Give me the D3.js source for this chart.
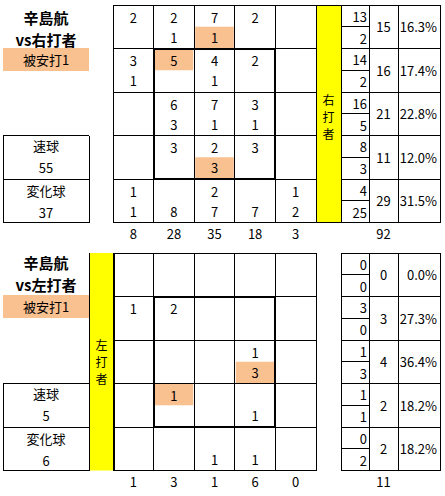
<!DOCTYPE html>
<html>
<head>
<meta charset="utf-8">
<script src="https://cdn.jsdelivr.net/npm/d3@7"></script>
<style>
  body { margin: 0; background: #fff; }
  text { font-family: 'Noto Sans CJK JP', sans-serif; font-size: 13px; fill: #000; }
  .name { font-weight: bold; font-size: 15px; }
  .vert { font-size: 12px; }
</style>
</head>
<body>
<script>
//data: top number = 速球, bottom number = 変化球, null = empty
var pitcher = '辛島航';
var rTop = [
    [2, 2, 7, 2, null],
    [3, 5, 4, 2, null],
    [null, 6, 7, 3, null],
    [null, 3, 2, 3, null],
    [1, null, 2, null, 1]
];
var rBot = [
    [null, 1, 1, null, null],
    [1, null, 1, null, null],
    [null, 3, 1, 1, null],
    [null, null, 3, null, null],
    [1, 8, 7, 7, 2]
];
var rHits = [[0, 2, 'bot'], [1, 1, 'top'], [3, 2, 'bot']];
var rColTotals = [8, 28, 35, 18, 3];
var rRowFast = [13, 14, 16, 8, 4];
var rRowBreak = [2, 2, 5, 3, 25];
var rRowTotals = [15, 16, 21, 11, 29];
var rRowPct = ['16.3%', '17.4%', '22.8%', '12.0%', '31.5%'];
var rTotal = 92;
var rFast = 55, rBreak = 37, rHitCount = 1;

var lTop = [
    [null, null, null, null, null],
    [1, 2, null, null, null],
    [null, null, null, 1, null],
    [null, 1, null, null, null],
    [null, null, null, null, null]
];
var lBot = [
    [null, null, null, null, null],
    [null, null, null, null, null],
    [null, null, null, 3, null],
    [null, null, null, 1, null],
    [null, null, 1, 1, null]
];
var lHits = [[2, 3, 'bot'], [3, 1, 'top']];
var lColTotals = [1, 3, 1, 6, 0];
var lRowFast = [0, 3, 1, 1, 0];
var lRowBreak = [0, 0, 3, 1, 2];
var lRowTotals = [0, 3, 4, 2, 2];
var lRowPct = ['0.0%', '27.3%', '36.4%', '18.2%', '18.2%'];
var lTotal = 11;
var lFast = 5, lBreak = 6, lHitCount = 1;
//end data

var hitColor = '#f9c090';
var svg = d3.select('body').append('svg')
    .attr('width', 445)
    .attr('height', 496);

function line(g, x1, y1, x2, y2, w) {
    g.append('line')
        .attr('x1', x1).attr('y1', y1)
        .attr('x2', x2).attr('y2', y2)
        .attr('stroke', '#000')
        .attr('stroke-width', w || 1)
        .attr('shape-rendering', 'crispEdges');
}

function txt(g, x, y, s, anchor, cls) {
    g.append('text')
        .attr('x', x).attr('y', y)
        .attr('text-anchor', anchor || 'middle')
        .attr('dominant-baseline', 'central')
        .attr('class', cls || null)
        .text(s);
}

function drawPanel(cfg) {
    var g = svg.append('g');
    var idx = d3.range(5);
    var x = d3.scaleBand().domain(idx).range([cfg.gridX0, cfg.gridX1]);
    var y = d3.scaleBand().domain(idx).range([cfg.y0, cfg.y0 + 217.5]);
    var bw = x.bandwidth(), bh = y.bandwidth();
    var yEnd = cfg.y0 + 217.5;

    //highlighted hits (half cell)
    g.selectAll('rect.hit')
        .data(cfg.hits)
        .enter().append('rect')
        .attr('class', 'hit')
        .attr('x', function (d) { return x(d[1]) + 1; })
        .attr('y', function (d) { return y(d[0]) + (d[2] === 'bot' ? bh / 2 : 0); })
        .attr('width', bw - 2)
        .attr('height', bh / 2)
        .attr('fill', hitColor);

    //yellow batter column
    g.append('rect')
        .attr('x', cfg.yellowX).attr('y', cfg.y0)
        .attr('width', 25).attr('height', 217.5)
        .attr('fill', '#ffff00');
    cfg.yellowText.split('').forEach(function (c, i) {
        txt(g, cfg.yellowX + 12.5, cfg.yellowTextY + i * 17, c, 'middle', 'vert');
    });

    //grid lines
    idx.concat([5]).forEach(function (i) {
        var xx = i < 5 ? x(i) : cfg.gridX1;
        line(g, xx, cfg.y0, xx, yEnd);
        var yy = i < 5 ? y(i) : yEnd;
        line(g, cfg.gridX0, yy, cfg.gridX1, yy);
    });
    line(g, cfg.yellowX, cfg.y0, cfg.yellowX, yEnd);
    line(g, cfg.yellowX + 25, cfg.y0, cfg.yellowX + 25, yEnd);
    if (cfg.joinYellow) {
        line(g, cfg.yellowX, cfg.y0, cfg.yellowX + 25, cfg.y0);
        line(g, cfg.yellowX, yEnd, cfg.yellowX + 25, yEnd);
    }

    //strike zone box
    g.append('rect')
        .attr('x', x(1)).attr('y', y(1))
        .attr('width', bw * 3).attr('height', bh * 3)
        .attr('fill', 'none')
        .attr('stroke', '#000')
        .attr('stroke-width', 2)
        .attr('shape-rendering', 'crispEdges');

    //cell numbers
    idx.forEach(function (r) {
        idx.forEach(function (c) {
            if (cfg.top[r][c] !== null) txt(g, x(c) + bw / 2, y(r) + 12, cfg.top[r][c]);
            if (cfg.bot[r][c] !== null) txt(g, x(c) + bw / 2, y(r) + 32, cfg.bot[r][c]);
        });
    });
    g.selectAll('text.coltot')
        .data(cfg.colTotals)
        .enter().append('text')
        .attr('class', 'coltot')
        .attr('x', function (d, i) { return x(i) + bw / 2; })
        .attr('y', yEnd + 11)
        .attr('text-anchor', 'middle')
        .attr('dominant-baseline', 'central')
        .text(function (d) { return d; });

    //right summary table
    var t0 = 341, t1 = 369, t2 = 398, t3 = 440;
    [t0, t1, t2, t3].forEach(function (xx) { line(g, xx, cfg.y0, xx, yEnd); });
    idx.concat([5]).forEach(function (i) {
        var yy = i < 5 ? y(i) : yEnd;
        line(g, t0, yy, t3, yy);
    });
    idx.forEach(function (r) {
        line(g, t0, y(r) + bh / 2, t1, y(r) + bh / 2);
        txt(g, t1 - 2, y(r) + 11, cfg.rowFast[r], 'end');
        txt(g, t1 - 2, y(r) + 33, cfg.rowBreak[r], 'end');
        txt(g, (t1 + t2) / 2, y(r) + bh / 2, cfg.rowTotals[r]);
        txt(g, t3 - 3, y(r) + bh / 2, cfg.rowPct[r], 'end');
    });
    txt(g, (t1 + t2) / 2, yEnd + 11, cfg.total);

    //left labels
    txt(g, 46, cfg.nameY, pitcher, 'middle', 'name');
    txt(g, 46, cfg.nameY + 22, cfg.vsLabel, 'middle', 'name');
    g.append('rect')
        .attr('x', 3).attr('y', cfg.hitBoxY)
        .attr('width', cfg.leftX1 - 3).attr('height', 23)
        .attr('fill', hitColor);
    txt(g, 46, cfg.hitBoxY + 11.5, '被安打' + cfg.hitCount);
    var b0 = y(3), b1 = y(4);
    line(g, 3, b0, cfg.leftX1, b0);
    line(g, 3, b1, cfg.leftX1, b1);
    line(g, 3, yEnd, cfg.leftX1, yEnd);
    line(g, 3, b0, 3, yEnd);
    line(g, cfg.leftX1, b0, cfg.leftX1, yEnd);
    txt(g, 46, b0 + 10, '速球');
    txt(g, 46, b0 + 32, cfg.fast);
    txt(g, 46, b1 + 11, '変化球');
    txt(g, 46, b1 + 33, cfg.brk);
}

drawPanel({
    y0: 5, gridX0: 113, gridX1: 316, yellowX: 316, yellowText: '右打者', yellowTextY: 99,
    joinYellow: true, leftX1: 89, nameY: 17,
    top: rTop, bot: rBot, hits: rHits, colTotals: rColTotals,
    rowFast: rRowFast, rowBreak: rRowBreak, rowTotals: rRowTotals, rowPct: rRowPct, total: rTotal,
    vsLabel: 'vs右打者', hitBoxY: 48, hitCount: rHitCount, fast: rFast, brk: rBreak
});
drawPanel({
    y0: 253, gridX0: 113, gridX1: 316, yellowX: 89, yellowText: '左打者', yellowTextY: 344,
    joinYellow: false, leftX1: 89, nameY: 262,
    top: lTop, bot: lBot, hits: lHits, colTotals: lColTotals,
    rowFast: lRowFast, rowBreak: lRowBreak, rowTotals: lRowTotals, rowPct: lRowPct, total: lTotal,
    vsLabel: 'vs左打者', hitBoxY: 295, hitCount: lHitCount, fast: lFast, brk: lBreak
});
</script>
</body>
</html>
